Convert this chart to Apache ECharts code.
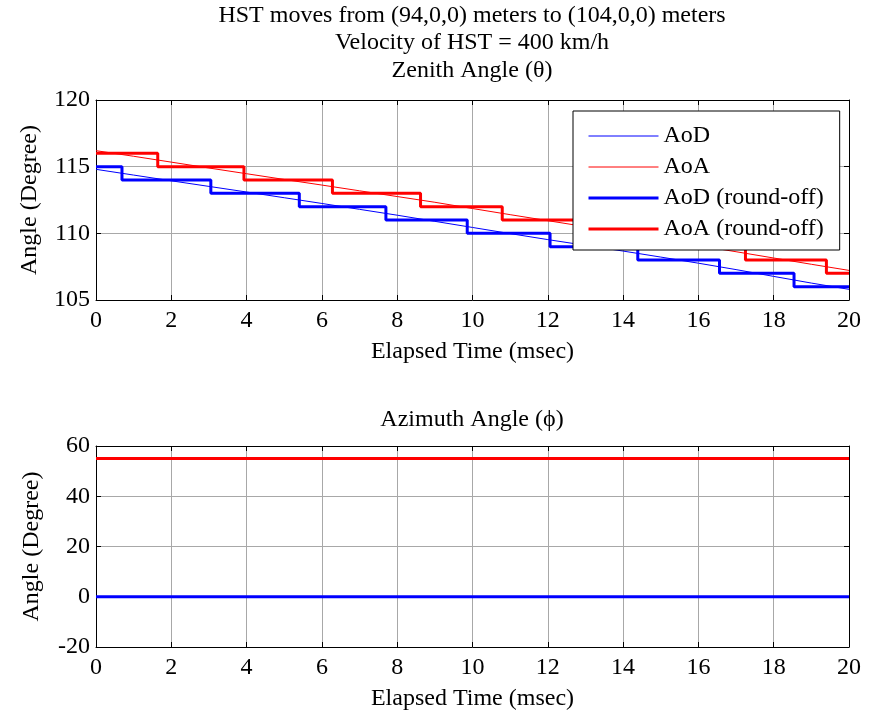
<!DOCTYPE html>
<html>
<head>
<meta charset="utf-8">
<script src="https://cdn.jsdelivr.net/npm/echarts@6/dist/echarts.min.js"></script>
<style>
  html, body { margin: 0; padding: 0; background: #fff; }
  #chart { width: 877px; height: 712px; }
</style>
</head>
<body>
<div id="chart"></div>
<script>
// time samples (msec) for the continuous curves
const timeMs = [0, 1, 2, 3, 4, 5, 6, 7, 8, 9, 10, 11, 12, 13, 14, 15, 16, 17, 18, 19, 20]
// zenith angle, degrees
const aodZenith = [114.8, 114.37, 113.94, 113.52, 113.1, 112.67, 112.24, 111.8, 111.36, 110.9, 110.44,
  109.98, 109.53, 109.1, 108.67, 108.22, 107.76, 107.28, 106.77, 106.27, 105.8]
const aoaZenith = [116.2, 115.78, 115.34, 114.9, 114.47, 114.04, 113.62, 113.19, 112.76, 112.33, 111.86,
  111.4, 110.95, 110.5, 110.03, 109.55, 109.08, 108.62, 108.15, 107.68, 107.22]
// round-off steps: time where each level starts, and level
const aodRoundT = [0, 0.69, 3.05, 5.40, 7.70, 9.86, 12.06, 14.39, 16.56, 18.54, 20]
const aodRoundV = [115, 114, 113, 112, 111, 110, 109, 108, 107, 106, 106]
const aoaRoundT = [0, 1.64, 3.93, 6.28, 8.62, 10.79, 13.0, 15.1, 17.25, 19.4, 20]
const aoaRoundV = [116, 115, 114, 113, 112, 111, 110, 109, 108, 107, 107]
// azimuth angle, degrees
const aziTime = [0, 20]
const aodAzimuth = [0, 0]
const aoaAzimuth = [55.2, 55.2]
const aodAzimuthRound = [0, 0]
const aoaAzimuthRound = [55, 55]

const FONT = 'Liberation Serif'
const FS = 24
const BLUE = '#0000ff'
const RED = '#ff0000'
const GRID_GRAY = '#a8a8a8'

const zip = (xs, ys) => xs.map((x, i) => [x, ys[i]])

const chart = echarts.init(document.getElementById('chart'))

const xAxisBase = (gridIndex) => ({
  type: 'value',
  gridIndex,
  min: 0,
  max: 20,
  interval: 2,
  name: 'Elapsed Time (msec)',
  nameLocation: 'middle',
  nameGap: 40,
  nameTextStyle: { fontFamily: FONT, fontSize: FS, color: '#000' },
  axisLine: { onZero: false, lineStyle: { color: '#000', width: 1 } },
  axisTick: { inside: true, length: 5, lineStyle: { color: '#000' } },
  axisLabel: { fontFamily: FONT, fontSize: FS, color: '#000', margin: 9 },
  splitLine: { show: true, lineStyle: { color: GRID_GRAY, width: 1 } }
})

const yAxisBase = (gridIndex, min, max, interval, gap) => ({
  type: 'value',
  gridIndex,
  min,
  max,
  interval,
  name: 'Angle (Degree)',
  nameLocation: 'middle',
  nameGap: gap,
  nameRotate: 90,
  nameTextStyle: { fontFamily: FONT, fontSize: FS, color: '#000' },
  axisLine: { show: true, onZero: false, lineStyle: { color: '#000', width: 1 } },
  axisTick: { show: true, inside: true, length: 5, lineStyle: { color: '#000' } },
  axisLabel: { fontFamily: FONT, fontSize: FS, color: '#000', margin: 6 },
  splitLine: { show: true, lineStyle: { color: GRID_GRAY, width: 1 } }
})

// mirror axes for the box (top / right edges with inward ticks)
const xAxisBox = (gridIndex) => ({
  type: 'value', gridIndex, position: 'top', min: 0, max: 20, interval: 2,
  axisLine: { onZero: false, lineStyle: { color: '#000' } },
  axisTick: { inside: true, length: 5, lineStyle: { color: '#000' } },
  axisLabel: { show: false }, splitLine: { show: false }
})
const yAxisBox = (gridIndex, min, max, interval) => ({
  type: 'value', gridIndex, position: 'right', min, max, interval,
  axisLine: { show: true, onZero: false, lineStyle: { color: '#000' } },
  axisTick: { show: true, inside: true, length: 5, lineStyle: { color: '#000' } },
  axisLabel: { show: false }, splitLine: { show: false }
})

const lineSeries = (name, data, color, width, xAxisIndex, yAxisIndex, step) => ({
  name,
  type: 'line',
  data,
  xAxisIndex,
  yAxisIndex,
  step: step || false,
  symbol: 'none',
  silent: true,
  animation: false,
  lineStyle: { color, width },
  itemStyle: { color }
})

const titleText = (text, y) => ({
  type: 'text',
  x: 472,
  y,
  style: { text, fontFamily: FONT, fontSize: FS, fill: '#000', textAlign: 'center', textVerticalAlign: 'middle' }
})

const legendItem = (name, color, width) => ({ name, lineStyle: { color, width }, itemStyle: { opacity: 0 } })

chart.setOption({
  animation: false,
  backgroundColor: '#fff',
  graphic: [
    titleText('HST moves from (94,0,0) meters to (104,0,0) meters', 16),
    titleText('Velocity of HST = 400 km/h', 43),
    titleText('Zenith Angle (\u03b8)', 71),
    titleText('Azimuth Angle (\u03d5)', 420)
  ],
  grid: [
    { left: 96, right: 28, top: 100, height: 200 },
    { left: 96, right: 28, top: 446, height: 201 }
  ],
  legend: {
    left: 573,
    top: 111,
    orient: 'vertical',
    backgroundColor: '#fff',
    borderColor: '#000',
    borderWidth: 1,
    padding: [13, 16, 9, 14],
    itemWidth: 70,
    itemHeight: 14,
    itemGap: 7,
    itemStyle: { opacity: 0 },
    textStyle: { fontFamily: FONT, fontSize: FS, color: '#000' },
    data: [
      legendItem('AoD', BLUE, 1),
      legendItem('AoA', RED, 1),
      legendItem('AoD (round-off)', BLUE, 3),
      legendItem('AoA (round-off)', RED, 3)
    ]
  },
  xAxis: [xAxisBase(0), xAxisBase(1), xAxisBox(0), xAxisBox(1)],
  yAxis: [
    yAxisBase(0, 105, 120, 5, 54),
    yAxisBase(1, -20, 60, 20, 52),
    yAxisBox(0, 105, 120, 5),
    yAxisBox(1, -20, 60, 20)
  ],
  series: [
    lineSeries('AoD', zip(timeMs, aodZenith), BLUE, 1, 0, 0),
    lineSeries('AoA', zip(timeMs, aoaZenith), RED, 1, 0, 0),
    lineSeries('AoD (round-off)', zip(aodRoundT, aodRoundV), BLUE, 3, 0, 0, 'end'),
    lineSeries('AoA (round-off)', zip(aoaRoundT, aoaRoundV), RED, 3, 0, 0, 'end'),
    lineSeries('AoD', zip(aziTime, aodAzimuth), BLUE, 1, 1, 1),
    lineSeries('AoA', zip(aziTime, aoaAzimuth), RED, 1, 1, 1),
    lineSeries('AoD (round-off)', zip(aziTime, aodAzimuthRound), BLUE, 3, 1, 1),
    lineSeries('AoA (round-off)', zip(aziTime, aoaAzimuthRound), RED, 3, 1, 1)
  ]
})
</script>
</body>
</html>
